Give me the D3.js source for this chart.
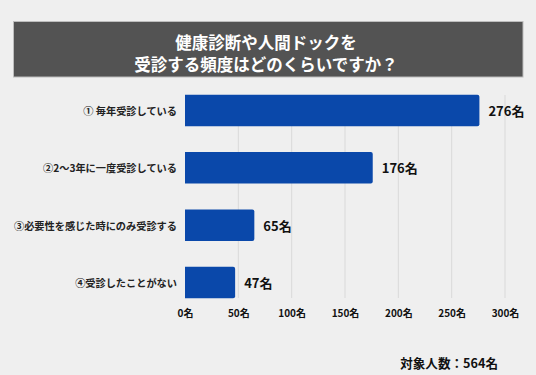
<!DOCTYPE html>
<html><head><meta charset="utf-8">
<script src="https://cdn.jsdelivr.net/npm/d3@7"></script>
<style>html,body{margin:0;padding:0;background:#efefef;}svg{display:block;}</style>
</head><body>
<svg id="c" width="536" height="375"></svg>
<script>
const titleLines = ["健康診断や人間ドックを", "受診する頻度はどのくらいですか？"];
const categories = ["① 毎年受診している", "②2～3年に一度受診している", "③必要性を感じた時にのみ受診する", "④受診したことがない"];
const values = [276, 176, 65, 47];
const ticks = [0, 50, 100, 150, 200, 250, 300];
const unit = "名";
const footer = "対象人数：564名";

const font = "'Noto Sans CJK JP','Noto Sans',sans-serif";
const svg = d3.select("#c").style("font-family", font);
svg.append("rect").attr("width",536).attr("height",375).attr("fill","#efefef");

// title box
svg.append("rect").attr("x",13.5).attr("y",21.5).attr("width",509.5).attr("height",55.5)
  .attr("fill","#535353").attr("stroke","#bdbdbd").attr("stroke-width",1);
svg.selectAll("text.title").data(titleLines).join("text").attr("class","title")
  .attr("x",266).attr("y",(d,i)=>41.5+i*22).attr("text-anchor","middle").attr("dominant-baseline","central")
  .attr("fill","#fff").attr("font-weight","bold").attr("font-size",16.5).text(d=>d);

const x = d3.scaleLinear().domain([0,300]).range([185,505]);
const y = d3.scaleBand().domain(categories).range([81.5,311.5]).paddingInner(0.45).paddingOuter(0.23);

// grid
svg.selectAll("line.grid").data(ticks.slice(1)).join("line").attr("class","grid")
  .attr("x1",d=>x(d)).attr("x2",d=>x(d)).attr("y1",95).attr("y2",298)
  .attr("stroke","#d9d9d9").attr("stroke-width",1);

// bars with rounded right corners
const r = 2;
svg.selectAll("path.bar").data(values).join("path").attr("class","bar")
  .attr("fill","#0a48aa")
  .attr("d",(d,i)=>{
    const x0 = x(0), x1 = x(d), y0 = y(categories[i]), h = y.bandwidth();
    return `M${x0},${y0}H${x1-r}Q${x1},${y0} ${x1},${y0+r}V${y0+h-r}Q${x1},${y0+h} ${x1-r},${y0+h}H${x0}Z`;
  });

// value labels
svg.selectAll("text.val").data(values).join("text").attr("class","val")
  .attr("x",d=>x(d)+9).attr("y",(d,i)=>y(categories[i])+y.bandwidth()/2)
  .attr("dominant-baseline","central").attr("font-weight","bold").attr("font-size",13)
  .attr("fill","#111").text(d=>d+unit);

// category labels
svg.selectAll("text.cat").data(categories).join("text").attr("class","cat")
  .attr("x",177).attr("y",d=>y(d)+y.bandwidth()/2).attr("text-anchor","end")
  .attr("dominant-baseline","central").attr("font-weight","bold").attr("font-size",10.2)
  .attr("fill","#222").text(d=>d);

// x axis
const ax = svg.append("g").attr("transform","translate(0,302)")
  .call(d3.axisBottom(x).tickValues(ticks).tickSize(0).tickPadding(0).tickFormat(d=>d+unit));
ax.select(".domain").remove();
ax.selectAll("text").attr("font-family",font).attr("font-weight","bold").attr("font-size",10)
  .attr("fill","#111").attr("dy",null).attr("y",10).attr("dominant-baseline","central");

// footer
svg.append("text").attr("x",498).attr("y",362).attr("text-anchor","end").attr("dominant-baseline","central")
  .attr("font-weight","bold").attr("font-size",12.6).attr("fill","#111").text(footer);
</script>
</body></html>
